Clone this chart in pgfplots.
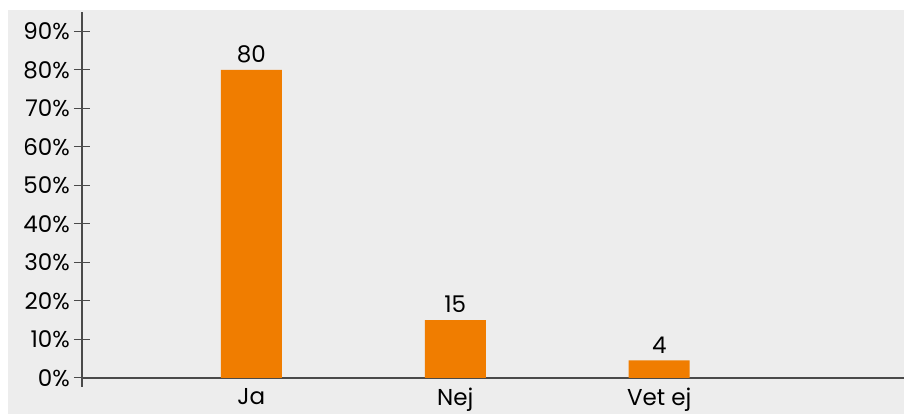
\documentclass[border=0pt]{standalone}
\usepackage{pgfplots}
\pgfplotsset{compat=1.18}
\usepackage{fontspec}
\setmainfont{Poppins}
\definecolor{bg}{HTML}{EDEDED}
\definecolor{bar}{HTML}{F07D00}
\definecolor{axc}{HTML}{4A4A4A}
\begin{document}
\begin{tikzpicture}
\useasboundingbox (-82pt,-36pt) rectangle (822pt,378pt);
\fill[bg] (-74pt,-36pt) rectangle (822pt,368pt);
\begin{axis}[
  at={(0,0)}, anchor=south west,
  scale only axis, width=822pt, height=366pt,
  xmin=-0.83, xmax=3.2, ymin=0, ymax=95,
  axis lines=left, axis line style={draw=axc, line width=1.2pt, -},
  ytick={0,10,...,90},
  yticklabel={\pgfmathprintnumber{\tick}\%},
  xtick={0,1,2}, xticklabels={Ja,Nej,Vet ej},
  major x tick style={draw=none},
  tick align=center, major tick length=16pt,
  major y tick style={draw=axc, line width=1pt},
  tick label style={font=\fontsize{23}{27}\selectfont},
  xticklabel style={inner sep=0pt, anchor=north, yshift=6pt},
  yticklabel style={inner sep=0pt, anchor=east, xshift=-4pt},
  /pgf/number format/assume math mode=true,
  ybar, bar width=61pt, bar shift=0pt,
  point meta=explicit symbolic,
  nodes near coords,
  nodes near coords style={font=\fontsize{23}{27}\selectfont, inner sep=0pt, anchor=south, yshift=7pt},
  clip=false,
]
\addplot[fill=bar, draw=none] coordinates {(0,80) [80] (1,15) [15] (2,4.6) [4]};
\end{axis}
\draw[axc, line width=1.2pt] (0,0) -- (0,-9pt);
\end{tikzpicture}
\end{document}
